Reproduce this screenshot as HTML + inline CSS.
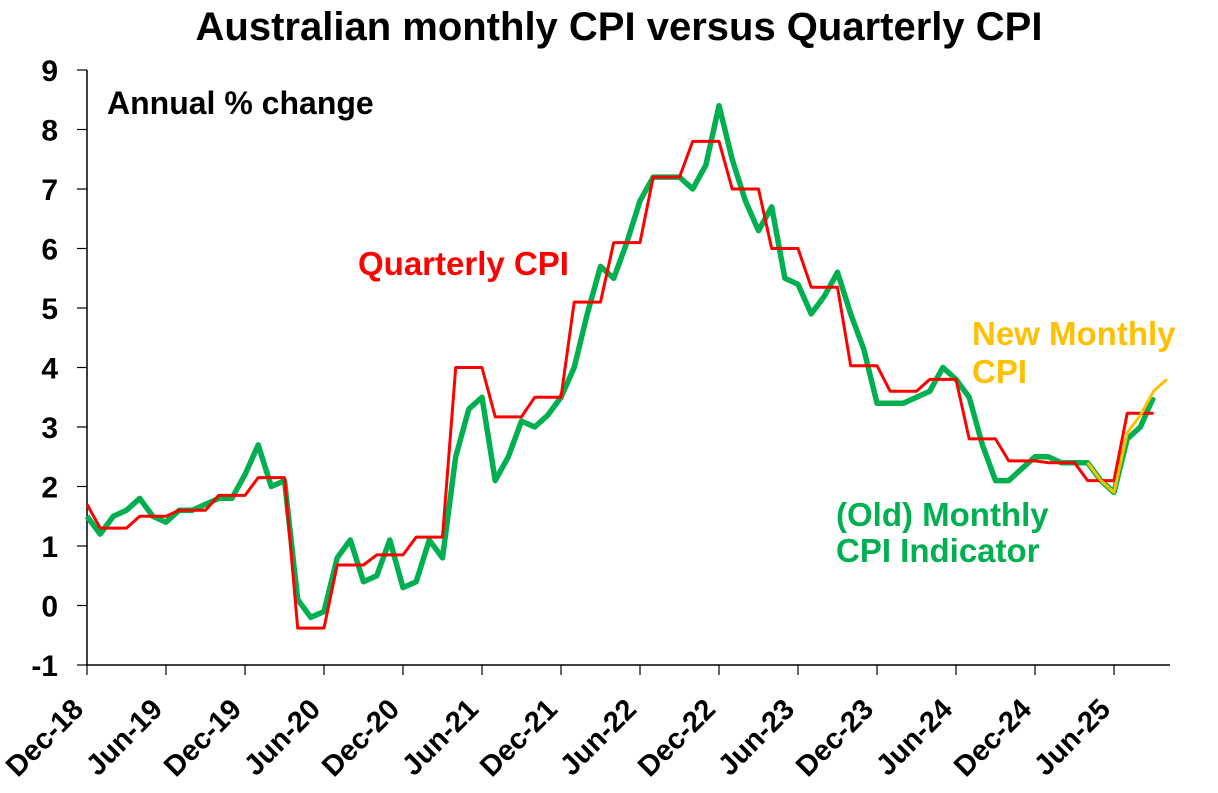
<!DOCTYPE html>
<html><head><meta charset="utf-8"><style>
body{margin:0;background:#fff;}
svg{display:block;font-family:"Liberation Sans",Arial,sans-serif;font-weight:bold;}
</style></head><body>
<svg id="chart" width="1218" height="793">
<rect width="1218" height="793" fill="#fff"/>
<text x="619" y="40" text-anchor="middle" font-size="40">Australian monthly CPI versus Quarterly CPI</text>
<text x="107" y="114" font-size="32">Annual % change</text>
<g id="axes"></g>
<g id="series"></g>
<text x="358" y="275" font-size="33" fill="#ff0000">Quarterly CPI</text>
<text x="972" y="345" font-size="33" fill="#ffc000">New Monthly</text>
<text x="972" y="383" font-size="33" fill="#ffc000">CPI</text>
<text x="836" y="526" font-size="33" fill="#00b050">(Old) Monthly</text>
<text x="836" y="562" font-size="33" fill="#00b050">CPI Indicator</text>
</svg>
<script>
const xLabels=["Dec-18","Jun-19","Dec-19","Jun-20","Dec-20","Jun-21","Dec-21","Jun-22","Dec-22","Jun-23","Dec-23","Jun-24","Dec-24","Jun-25"];
const yTicks=[-1,0,1,2,3,4,5,6,7,8,9];
const oldMonthly=[1.5,1.2,1.5,1.6,1.8,1.5,1.4,1.6,1.6,1.7,1.8,1.8,2.2,2.7,2.0,2.1,0.1,-0.2,-0.1,0.8,1.1,0.4,0.5,1.1,0.3,0.4,1.1,0.8,2.5,3.3,3.5,2.1,2.5,3.1,3.0,3.2,3.5,4.0,4.9,5.7,5.5,6.1,6.8,7.2,7.2,7.2,7.0,7.4,8.4,7.5,6.8,6.3,6.7,5.5,5.4,4.9,5.2,5.6,4.9,4.3,3.4,3.4,3.4,3.5,3.6,4.0,3.8,3.5,2.7,2.1,2.1,2.3,2.5,2.5,2.4,2.4,2.4,2.1,1.9,2.8,3.0,3.5];
const newMonthlyStart=76;
const newMonthly=[2.4,2.1,1.9,2.9,3.2,3.6,3.8];
const quarterlyFirst=1.7;
const quarterly=[1.3,1.5,1.6,1.85,2.15,-0.38,0.68,0.85,1.15,4.0,3.17,3.5,5.1,6.1,7.2,7.8,7.0,6.0,5.35,4.03,3.6,3.8,2.8,2.43,2.4,2.1,3.23];
const NS="http://www.w3.org/2000/svg";
const x0=87,dx=13.167,yTop=70,yBot=665;
const xs=i=>x0+dx*i;
const ys=v=>yBot-(v+1)*(yBot-yTop)/10;
function mk(t,a,p){const e=document.createElementNS(NS,t);for(const k in a)e.setAttribute(k,a[k]);p.appendChild(e);return e;}
const ax=document.getElementById('axes');
let l=mk('line',{x1:x0,y1:yTop,x2:x0,y2:yBot,stroke:'#000','stroke-width':1.5},ax);


l=mk('line',{x1:x0,y1:yBot,x2:1170,y2:yBot,stroke:'#000','stroke-width':1.5},ax);


yTicks.forEach(v=>{
 const t=mk('line',{x1:77,y1:ys(v),x2:x0,y2:ys(v),stroke:'#000','stroke-width':1.2},ax);
 
 
 const tx=mk('text',{x:58,y:ys(v)+11,'text-anchor':'end','font-size':30},ax);
 tx.textContent=v;
 
 
});
xLabels.forEach((s,k)=>{
 const x=xs(k*6);
 const t=mk('line',{x1:x,y1:yBot,x2:x,y2:yBot+10,stroke:'#000','stroke-width':1.2},ax);
 
 
 const ax0=x-2,ay0=yBot+46;
 const tx=mk('text',{x:ax0,y:ay0,'text-anchor':'end','font-size':29,transform:`rotate(-45 ${ax0} ${ay0})`},ax);
 tx.textContent=s;
 
 
});
const sg=document.getElementById('series');
const q=[quarterlyFirst];quarterly.forEach(v=>{q.push(v,v,v);});
function line(arr,start,col,w,name){
 const pts=arr.map((v,i)=>xs(start+i).toFixed(1)+','+ys(v).toFixed(1)).join(' ');
 const p=mk('polyline',{points:pts,fill:'none',stroke:col,'stroke-width':w,'stroke-linejoin':'round'},sg);
 
 
}
line(oldMonthly,0,'#00b050',5.5,'old-monthly-cpi-line');
line(q,0,'#ff0000',3,'quarterly-cpi-line');
line(newMonthly,newMonthlyStart,'#ffc000',3,'new-monthly-cpi-line');
</script>
</body></html>
